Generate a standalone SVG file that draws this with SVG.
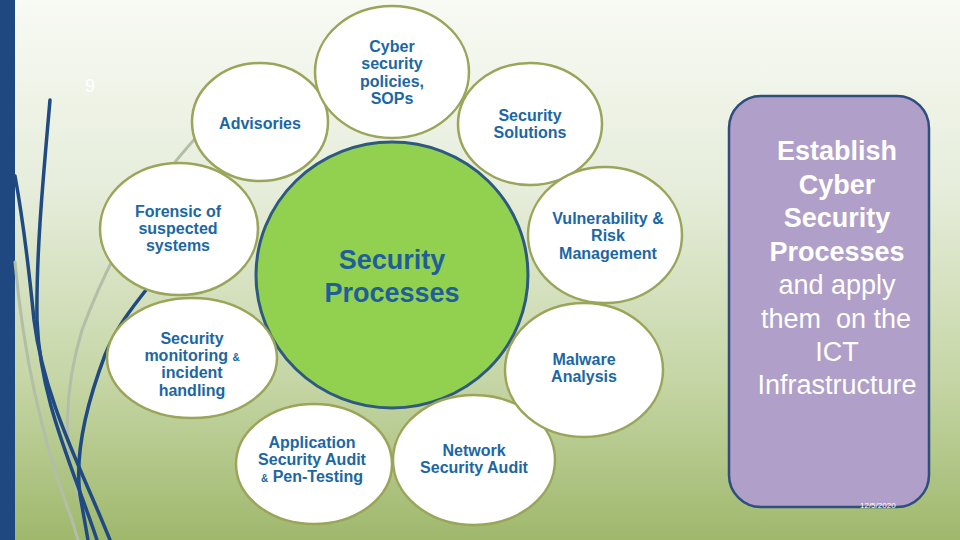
<svg xmlns="http://www.w3.org/2000/svg" width="960" height="540" viewBox="0 0 960 540">
<defs>
<linearGradient id="bg" x1="0" y1="0" x2="0" y2="1">
<stop offset="0" stop-color="#f8faf4"/>
<stop offset="0.35" stop-color="#e6eddb"/>
<stop offset="0.7" stop-color="#c6d6a6"/>
<stop offset="1" stop-color="#9fb86c"/>
</linearGradient>
<style>
.node ellipse{fill:#ffffff;stroke:#9aa55a;stroke-width:2.5}
.lbl{font-family:"Liberation Sans",Arial,sans-serif;font-weight:bold;font-size:16px;fill:#1c67a3;text-anchor:middle}
.amp{font-size:10px}
.deco-b{fill:none;stroke:#1f4a82;stroke-width:3.5;stroke-linecap:round}
.deco-g{fill:none;stroke:#b3bea9;stroke-width:3;stroke-linecap:round}
.side{font-family:"Liberation Sans",Arial,sans-serif;font-size:27px;fill:#ffffff;text-anchor:middle}
</style>
</defs>
<rect x="0" y="0" width="960" height="540" fill="url(#bg)"/>
<rect x="0" y="0" width="15" height="540" fill="#1f4880"/>
<g id="decoration">
<path class="deco-g" d="M205,128 C150,185 110,255 82,330 C64,390 62,450 80,500 L88,540"/>
<path class="deco-g" d="M15,262 C22,340 38,430 72,520 L78,540"/>
<path class="deco-b" d="M50,100 C44,170 36,250 37,320 C40,400 72,465 97,540"/>
<path class="deco-b" d="M15,176 C25,230 30,280 34,320 C44,400 82,470 110,540"/>
<path class="deco-b" d="M150,285 C130,310 115,330 105,355 C88,400 74,450 80,495 L88,540"/>
</g>
<text x="90" y="92" font-family="Liberation Sans, Arial, sans-serif" font-size="18" fill="#ffffff" text-anchor="middle">9</text>
<g id="connectors"></g>
<g id="center">
<ellipse cx="392" cy="275" rx="136" ry="133" fill="#92d050" stroke="#2e5a80" stroke-width="3"/>
<text class="lbl" x="392" y="269" font-size="27" fill="#1f5f99" style="font-size:27px;fill:#1f5f99">Security</text>
<text class="lbl" x="392" y="302" style="font-size:27px;fill:#1f5f99">Processes</text>
</g>
<g id="advisories" class="node">
<ellipse cx="260" cy="122" rx="68" ry="59"/>
<text class="lbl" x="260" y="129">Advisories</text>
</g>
<g id="policies" class="node">
<ellipse cx="392" cy="72" rx="77" ry="66"/>
<text class="lbl" x="392" y="52">Cyber</text>
<text class="lbl" x="392" y="69">security</text>
<text class="lbl" x="392" y="87">policies,</text>
<text class="lbl" x="392" y="104">SOPs</text>
</g>
<g id="solutions" class="node">
<ellipse cx="530" cy="124" rx="72" ry="61"/>
<text class="lbl" x="530" y="121">Security</text>
<text class="lbl" x="530" y="138">Solutions</text>
</g>
<g id="forensic" class="node">
<ellipse cx="179" cy="229" rx="79" ry="66"/>
<text class="lbl" x="178" y="217">Forensic of</text>
<text class="lbl" x="178" y="234">suspected</text>
<text class="lbl" x="178" y="251">systems</text>
</g>
<g id="monitoring" class="node">
<ellipse cx="192" cy="358" rx="85" ry="60"/>
<text class="lbl" x="192" y="344">Security</text>
<text class="lbl" x="192" y="361">monitoring <tspan class="amp">&amp;</tspan></text>
<text class="lbl" x="192" y="378">incident</text>
<text class="lbl" x="192" y="396">handling</text>
</g>
<g id="appaudit" class="node">
<ellipse cx="314" cy="464" rx="78" ry="60"/>
<text class="lbl" x="312" y="448">Application</text>
<text class="lbl" x="312" y="465">Security  Audit</text>
<text class="lbl" x="312" y="482"><tspan class="amp">&amp;</tspan> Pen-Testing</text>
</g>
<g id="netaudit" class="node">
<ellipse cx="474" cy="460" rx="81" ry="65"/>
<text class="lbl" x="474" y="456">Network</text>
<text class="lbl" x="474" y="473">Security Audit</text>
</g>
<g id="malware" class="node">
<ellipse cx="584" cy="370" rx="79" ry="67"/>
<text class="lbl" x="584" y="365">Malware</text>
<text class="lbl" x="584" y="382">Analysis</text>
</g>
<g id="vulnerability" class="node">
<ellipse cx="605" cy="235" rx="77" ry="68"/>
<text class="lbl" x="608" y="224">Vulnerability &amp;</text>
<text class="lbl" x="608" y="241">Risk</text>
<text class="lbl" x="608" y="259">Management</text>
</g>
<g id="summary">
<rect x="729" y="96" width="200" height="411" rx="32" ry="32" fill="#b09fc8" stroke="#2f4d7e" stroke-width="2.5"/>
<text class="side" x="837" y="160" font-weight="bold">Establish</text>
<text class="side" x="837" y="194" font-weight="bold">Cyber</text>
<text class="side" x="837" y="227" font-weight="bold">Security</text>
<text class="side" x="837" y="261" font-weight="bold">Processes</text>
<text class="side" x="837" y="294">and apply</text>
<text class="side" x="836" y="328" xml:space="preserve">them  on the</text>
<text class="side" x="837" y="361">ICT</text>
<text class="side" x="837" y="394">Infrastructure</text>
<text x="860" y="508" font-family="Liberation Sans, Arial, sans-serif" font-size="8" fill="#ffffff">12/5/2020</text>
</g>
</svg>
